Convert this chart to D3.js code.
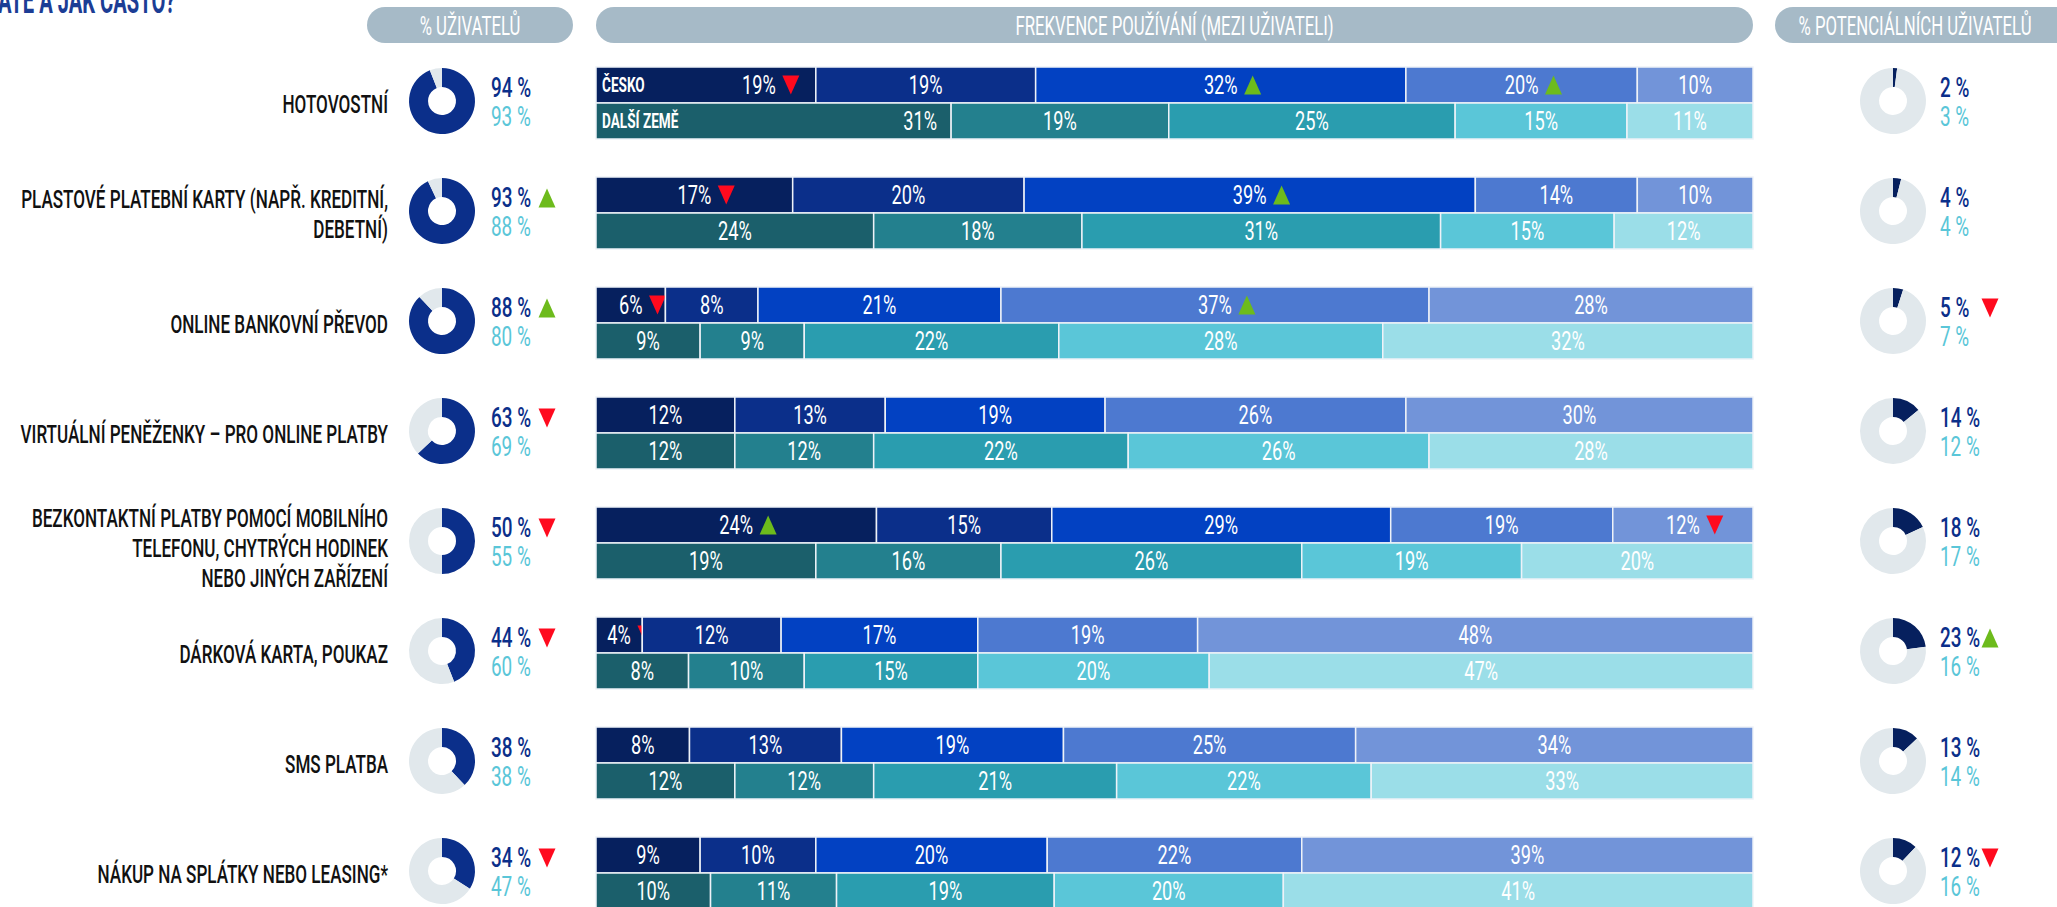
<!DOCTYPE html>
<html>
<head>
<meta charset="utf-8">
<script src="https://cdn.jsdelivr.net/npm/d3@7"></script>
<style>
  html, body { margin: 0; padding: 0; background: #fff; overflow: hidden; }
  text { font-family: Roboto, "DejaVu Sans", sans-serif; }
</style>
</head>
<body>
<script>
// categories (| = line break)
const categories = [
  "HOTOVOSTNÍ",
  "PLASTOVÉ PLATEBNÍ KARTY (NAPŘ. KREDITNÍ,|DEBETNÍ)",
  "ONLINE BANKOVNÍ PŘEVOD",
  "VIRTUÁLNÍ PENĚŽENKY – PRO ONLINE PLATBY",
  "BEZKONTAKTNÍ PLATBY POMOCÍ MOBILNÍHO|TELEFONU, CHYTRÝCH HODINEK|NEBO JINÝCH ZAŘÍZENÍ",
  "DÁRKOVÁ KARTA, POUKAZ",
  "SMS PLATBA",
  "NÁKUP NA SPLÁTKY NEBO LEASING*"
];
const headers = ["% UŽIVATELŮ", "FREKVENCE POUŽÍVÁNÍ (MEZI UŽIVATELI)", "% POTENCIÁLNÍCH UŽIVATELŮ"];
const seriesLabels = ["ČESKO", "DALŠÍ ZEMĚ"];
const titleText = "ATE A JAK ČASTO?";

// % users
const usersCZ = [94, 93, 88, 63, 50, 44, 38, 34];
const usersOther = [93, 88, 80, 69, 55, 60, 38, 47];
const usersTrend = ["", "up", "up", "down", "down", "down", "", "down"];

// % potential users
const potentialCZ = [2, 4, 5, 14, 18, 23, 13, 12];
const potentialOther = [3, 4, 7, 12, 17, 16, 14, 16];
const potentialTrend = ["", "", "down", "", "", "up", "", "down"];

// frequency among users
const freqCZ = [
  [19, 19, 32, 20, 10],
  [17, 20, 39, 14, 10],
  [6, 8, 21, 37, 28],
  [12, 13, 19, 26, 30],
  [24, 15, 29, 19, 12],
  [4, 12, 17, 19, 48],
  [8, 13, 19, 25, 34],
  [9, 10, 20, 22, 39]
];
const freqOther = [
  [31, 19, 25, 15, 11],
  [24, 18, 31, 15, 12],
  [9, 9, 22, 28, 32],
  [12, 12, 22, 26, 28],
  [19, 16, 26, 19, 20],
  [8, 10, 15, 20, 47],
  [12, 12, 21, 22, 33],
  [10, 11, 19, 20, 41]
];
const freqTrendCZ = [
  ["down", "", "up", "up", ""],
  ["down", "", "up", "", ""],
  ["down", "", "", "up", ""],
  ["", "", "", "", ""],
  ["up", "", "", "", "down"],
  ["down", "", "", "", ""],
  ["", "", "", "", ""],
  ["", "", "", "", ""]
];

const czColors = ["#06205e", "#0b2f8a", "#0241c2", "#4d79d0", "#7294d9"];
const otherColors = ["#1b5f6b", "#23808e", "#2a9daf", "#5ac6d8", "#9bdee8"];

const W = 2057, H = 907;
const SX = 0.7;
const svg = d3.select("body").append("svg").attr("width", W).attr("height", H);

function txt(g, x, y, str, o) {
  o = o || {};
  return g.append("text")
    .attr("transform", `translate(${x},${y}) scale(${o.sx || SX},1)`)
    .attr("text-anchor", o.anchor || "start")
    .attr("dominant-baseline", "central")
    .style("font-size", (o.size || 22) + "px")
    .style("font-weight", o.weight || 400)
    .attr("fill", o.fill || "#fff")
    .text(str);
}

function tri(g, x, y, dir) {
  g.append("path")
    .attr("transform", `translate(${x},${y})`)
    .attr("d", dir === "up" ? "M-8.5,9.5L0,-9.5L8.5,9.5Z" : "M-8.5,-9.5L0,9.5L8.5,-9.5Z")
    .attr("fill", dir === "up" ? "#6dbb1c" : "#ff0a1e");
}

// title (cut at the top)
txt(svg, -2, 0, titleText, { size: 36, weight: 700, fill: "#1c3d95", sx: 0.56 })
  .attr("dominant-baseline", "auto").attr("y", 13);

// header pills
const pills = [[367, 573], [596, 1753], [1775, 2090]];
pills.forEach((p, i) => {
  svg.append("rect").attr("x", p[0]).attr("y", 7).attr("width", p[1] - p[0]).attr("height", 36)
    .attr("rx", 18).attr("fill", "#a6bac7");
  const cx = i === 2 ? 1915 : (p[0] + p[1]) / 2;
  txt(svg, cx, 26, headers[i], { anchor: "middle", size: 25, fill: "#fff", sx: 0.67 });
});

const rowY = d3.scaleBand().domain(d3.range(categories.length)).range([67, 909]).paddingInner(38 / 110);
const subY = d3.scaleBand().domain([0, 1]).range([0, rowY.bandwidth()]);
const pie = d3.pie().sort(null).value(d => d);
const arc = d3.arc().innerRadius(14).outerRadius(33);

categories.forEach((cat, i) => {
  const g = svg.append("g").attr("transform", `translate(0,${rowY(i)})`);
  const mid = rowY.bandwidth() / 2;

  // category label
  const lines = cat.split("|");
  const lh = 30;
  lines.forEach((l, k) => {
    txt(g, 388, mid + (k - (lines.length - 1) / 2) * lh + (lines.length > 2 ? 5 : 1), l,
      { anchor: "end", size: 25.5, weight: 500, fill: "#111", sx: 0.67 });
  });

  // donuts
  [[442, usersCZ[i], "#0b2f8a"], [1893, potentialCZ[i], "#06205e"]].forEach(([cx, v, col]) => {
    g.append("g").attr("transform", `translate(${cx},${mid - 2})`)
      .selectAll("path").data(pie([v, 100 - v])).join("path")
      .attr("d", arc).attr("fill", (d, k) => k === 0 ? col : "#e1e8ec");
  });

  // donut values
  [[491, usersCZ[i], usersOther[i], usersTrend[i], 547],
   [1940, potentialCZ[i], potentialOther[i], potentialTrend[i], 1990]].forEach(([x, a, b, tr, tx]) => {
    txt(g, x, mid - 15, a + " %", { size: 27, weight: 500, fill: "#0b2f8a", sx: 0.7 });
    txt(g, x, mid + 14, b + " %", { size: 27, weight: 400, fill: "#5ac6d8", sx: 0.7 });
    if (tr) tri(g, tx, mid - 15, tr);
  });

  // stacked bars
  [freqCZ[i], freqOther[i]].forEach((vals, s) => {
    const colors = s === 0 ? czColors : otherColors;
    const x = d3.scaleLinear().domain([0, d3.sum(vals)]).range([596, 1753]);
    const ends = d3.cumsum(vals);
    const y0 = subY(s), bh = subY.bandwidth();
    vals.forEach((v, k) => {
      const a = x(ends[k] - v), b = x(ends[k]);
      g.append("rect").attr("x", a).attr("y", y0).attr("width", b - a).attr("height", bh)
        .attr("fill", colors[k]).attr("stroke", "#eef2f8").attr("stroke-width", 1.5);
      const trend = s === 0 ? freqTrendCZ[i][k] : "";
      let cx = (a + b) / 2;
      const t = txt(g, cx, y0 + bh / 2, v + "%", { anchor: "middle", size: 26 });
      const tw = t.node().getComputedTextLength() * SX;
      if (i === 0 && k === 0) {
        // first row: push label right to leave room for the series name
        const gw = tw + (trend ? 26 : 0);
        cx = b - 14 - gw + tw / 2;
        t.attr("transform", `translate(${cx},${y0 + bh / 2}) scale(${SX},1)`);
      }
      if (trend) tri(g, cx + tw / 2 + 15, y0 + bh / 2, trend);
    });
    if (i === 0) {
      txt(g, 602, y0 + bh / 2, seriesLabels[s], { size: 20, weight: 700, sx: 0.68 });
    }
  });
});
</script>
</body>
</html>
